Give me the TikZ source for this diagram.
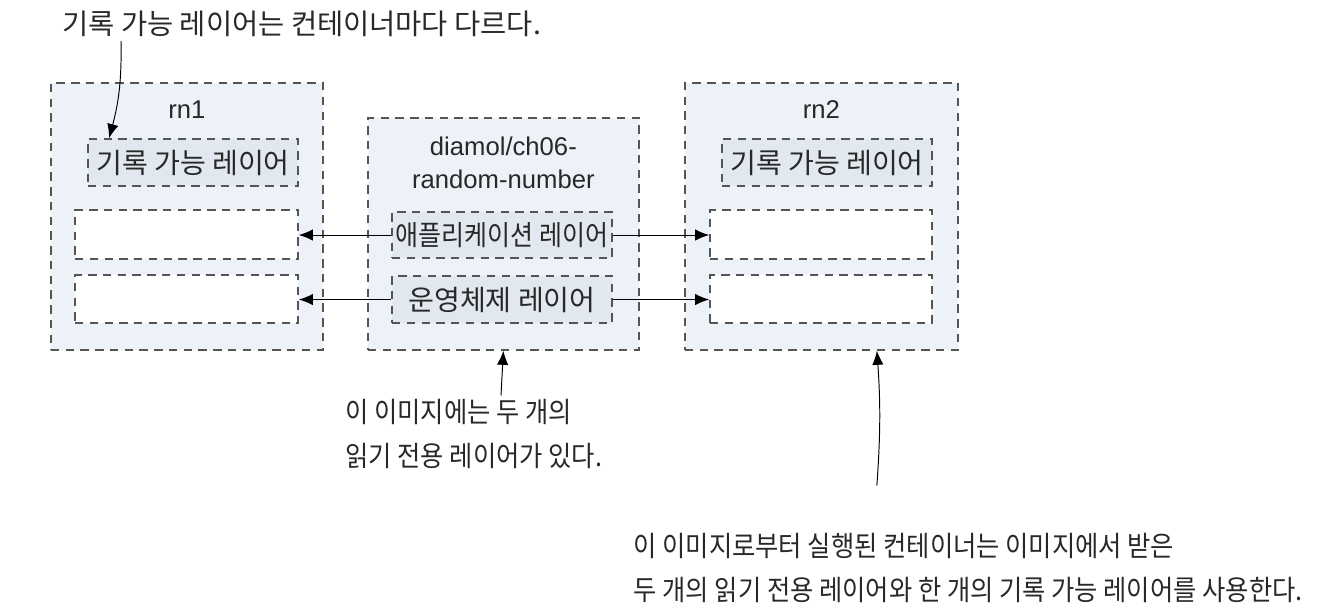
\documentclass[tikz,border=0pt]{standalone}
\usepackage{fontspec}
\setmainfont{Liberation Sans}
\newfontfamily\krfont{Noto Sans CJK KR}
\newfontfamily\krnarrow[FakeStretch=0.9]{Noto Sans CJK KR}
\usetikzlibrary{arrows.meta, positioning, calc}

\definecolor{dashgray}{RGB}{85,85,85}
\definecolor{ctrfill}{RGB}{237,242,248}
\definecolor{layerfill}{RGB}{225,232,240}
\definecolor{txtgray}{RGB}{40,40,40}

\tikzset{
	ctr/.style={rectangle, draw=dashgray, line width=1pt, dash pattern=on 4.8pt off 3.6pt, fill=ctrfill},
	layer/.style={ctr, fill=layerfill, text=txtgray, inner sep=0pt, font=\krfont\fontsize{16}{18}\selectfont},
	blank/.style={ctr, fill=white},
	lbl/.style={text=txtgray, align=center, font=\fontsize{14.6}{18.7}\selectfont},
	note/.style={text=txtgray, align=left, inner sep=0pt, font=\krnarrow\fontsize{16}{25}\selectfont},
	arr/.style={-{Latex[length=8pt, width=6.5pt]}, line width=0.55pt, black},
}

\begin{document}
\begin{tikzpicture}
		\useasboundingbox (0,0) rectangle (26.68,-12.2);
		
		\node[ctr, anchor=north west, minimum width=5.44cm, minimum height=5.34cm] (rn1) at (1.0,-1.64) {};
		\node[ctr, anchor=north west, minimum width=5.42cm, minimum height=4.64cm] (img) at (7.34,-2.34) {};
		\node[ctr, anchor=north west, minimum width=5.46cm, minimum height=5.34cm] (rn2) at (13.68,-1.64) {};
		
		\node[lbl] (rn1txt) at ([yshift=-0.56cm]rn1.north) {rn1};
		\node[lbl] (rn2txt) at ([yshift=-0.56cm]rn2.north) {rn2};
		\node[lbl] (imgtxt) at ([yshift=-0.91cm]img.north) {diamol/ch06-\\random-number};
		
		% rn1
		\node[layer, minimum width=4.2cm, minimum height=0.94cm] (w1) at (3.86,-3.25) {기록 가능 레이어};
		\node[blank, minimum width=4.46cm, minimum height=0.98cm] (e11) at (3.73,-4.69) {};
		\node[blank, minimum width=4.46cm, minimum height=0.96cm] (e12) at (3.73,-5.98) {};
		
		% image
		\node[layer, minimum width=4.4cm, minimum height=0.92cm, font=\krnarrow\fontsize{15.8}{18}\selectfont] (app) at (10.04,-4.70) {애플리케이션 레이어};
		\node[layer, minimum width=4.4cm, minimum height=0.94cm] (os) at (10.04,-5.99) {운영체제 레이어};
		
		% rn2
		\node[layer, minimum width=4.2cm, minimum height=0.94cm] (w2) at (16.54,-3.25) {기록 가능 레이어};
		\node[blank, minimum width=4.44cm, minimum height=0.98cm] (e21) at (16.42,-4.69) {};
		\node[blank, minimum width=4.44cm, minimum height=0.96cm] (e22) at (16.42,-5.98) {};
		
		\draw[arr] (app.west) -- (app.west -| e11.east);
		\draw[arr] (app.east) -- (app.east -| e21.west);
		\draw[arr] (os.west) -- (os.west -| e12.east);
		\draw[arr] (os.east) -- (os.east -| e22.west);
		
		\node[note, anchor=west, font=\krfont\fontsize{16.2}{20}\selectfont] (toptxt) at (1.24,-0.48) {기록 가능 레이어는 컨테이너마다 다르다.};
		\node[note, anchor=north west] (note1) at (6.9,-7.98) {이 이미지에는 두 개의\\읽기 전용 레이어가 있다.};
		\node[note, anchor=north east] (note2) at (26.06,-10.66) {이 이미지로부터 실행된 컨테이너는 이미지에서 받은\\두 개의 읽기 전용 레이어와 한 개의 기록 가능 레이어를 사용한다.};
		
		\draw[arr] ([xshift=1.18cm, yshift=-2pt]toptxt.south west) to[bend left=8] ([xshift=0.44cm]w1.north west);
		\draw[arr] ([xshift=3.12cm, yshift=2pt]note1.north west) -- (img.south);
		\coordinate (tip2) at ([xshift=1.11cm]rn2.south);
		\path ([yshift=0.95cm]note2.north) coordinate (n2up);
		\draw[arr] (n2up -| tip2) to[bend right=4] (tip2);
\end{tikzpicture}
\end{document}
